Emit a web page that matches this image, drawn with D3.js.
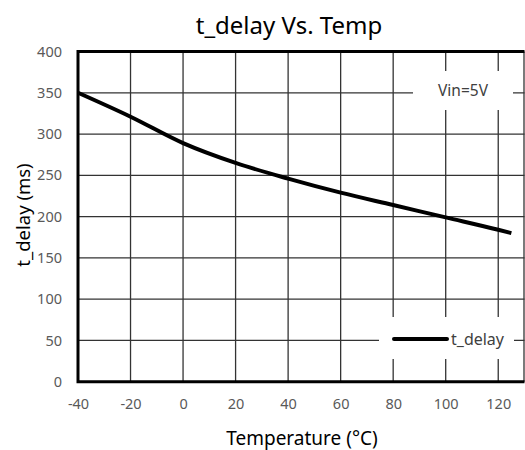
<!DOCTYPE html>
<html><head><meta charset="utf-8">
<script src="https://cdn.jsdelivr.net/npm/d3@7"></script>
<style>body{margin:0;background:#fff;} svg{display:block;font-family:"Noto Sans",sans-serif;}</style>
</head><body>
<svg id="c" width="525" height="450"></svg>
<script>
const temps = [-40, -20, 0, 20, 40, 60, 80, 100, 120, 125];
const tDelay = [350, 321, 289, 265, 246, 229, 214, 199, 184, 180];
const xTicks = [-40, -20, 0, 20, 40, 60, 80, 100, 120];
const yTicks = [0, 50, 100, 150, 200, 250, 300, 350, 400];
const title = "t_delay Vs. Temp";
const xTitle = "Temperature (°C)";
const yTitle = "t_delay (ms)";
const seriesName = "t_delay";
const note = "Vin=5V";

const svg = d3.select("#c");
const x = d3.scaleLinear().domain([-40, 130]).range([78, 524.5]);
const y = d3.scaleLinear().domain([0, 400]).range([381.7, 51.5]);
const L = x(-40), R = x(130), T = y(400), B = y(0);

// gridlines
const g = svg.append("g");
g.selectAll(".vg").data(xTicks.slice(1)).join("line")
  .attr("x1", d => x(d)).attr("x2", d => x(d)).attr("y1", T).attr("y2", B)
  .attr("stroke", "#333").attr("stroke-width", 1.3);
g.selectAll(".hg").data(yTicks.slice(1, -1)).join("line")
  .attr("x1", L).attr("x2", R).attr("y1", d => y(d)).attr("y2", d => y(d))
  .attr("stroke", "#333").attr("stroke-width", 1.3);
g.append("line").attr("x1", R - 0.5).attr("x2", R - 0.5).attr("y1", T).attr("y2", B)
  .attr("stroke", "#333").attr("stroke-width", 1.3);

// note box (white)
svg.append("rect").attr("x", 413).attr("y", 71).attr("width", 100).attr("height", 39).attr("fill", "#fff");
svg.append("text").attr("x", 463).attr("y", 96).attr("text-anchor", "middle")
  .attr("font-size", 15.5).attr("fill", "#404040").text(note);

// data line
svg.append("path").datum(temps.map((t, i) => [t, tDelay[i]]))
  .attr("d", d3.line().x(d => x(d[0])).y(d => y(d[1])).curve(d3.curveMonotoneX))
  .attr("fill", "none").attr("stroke", "#000").attr("stroke-width", 4).attr("stroke-linecap", "butt");

// frame: top, left, bottom thick
svg.append("path").attr("d", `M${R},${T}H${L}V${B}H${R}`)
  .attr("fill", "none").attr("stroke", "#000").attr("stroke-width", 3);

// legend box
svg.append("rect").attr("x", 379).attr("y", 317).attr("width", 135).attr("height", 42).attr("fill", "#fff");
svg.append("line").attr("x1", 394).attr("x2", 447).attr("y1", 339).attr("y2", 339)
  .attr("stroke", "#000").attr("stroke-width", 4).attr("stroke-linecap", "round");
svg.append("text").attr("x", 451).attr("y", 345).attr("font-size", 16).attr("fill", "#404040").text(seriesName);

// axes tick labels
const fmt = d => String(d);
const xa = svg.append("g").attr("transform", `translate(0,${B})`)
  .call(d3.axisBottom(x).tickValues(xTicks).tickFormat(fmt).tickSize(0).tickPadding(17));
const ya = svg.append("g").attr("transform", `translate(${L},0)`)
  .call(d3.axisLeft(y).tickValues(yTicks).tickFormat(fmt).tickSize(0).tickPadding(16));
[xa, ya].forEach(a => {
  a.select(".domain").remove();
  a.selectAll("text").attr("font-size", 14.5).attr("fill", "#595959").attr("font-family", "'Noto Sans',sans-serif");
});

// titles
svg.append("text").attr("x", 289).attr("y", 34).attr("text-anchor", "middle")
  .attr("font-size", 24).attr("fill", "#000").text(title);
svg.append("text").attr("x", 302).attr("y", 445).attr("text-anchor", "middle")
  .attr("font-size", 19).attr("fill", "#000").text(xTitle);
svg.append("text").attr("transform", "translate(30,215) rotate(-90)").attr("text-anchor", "middle")
  .attr("font-size", 18.5).attr("fill", "#000").text(yTitle);
</script>
</body></html>
